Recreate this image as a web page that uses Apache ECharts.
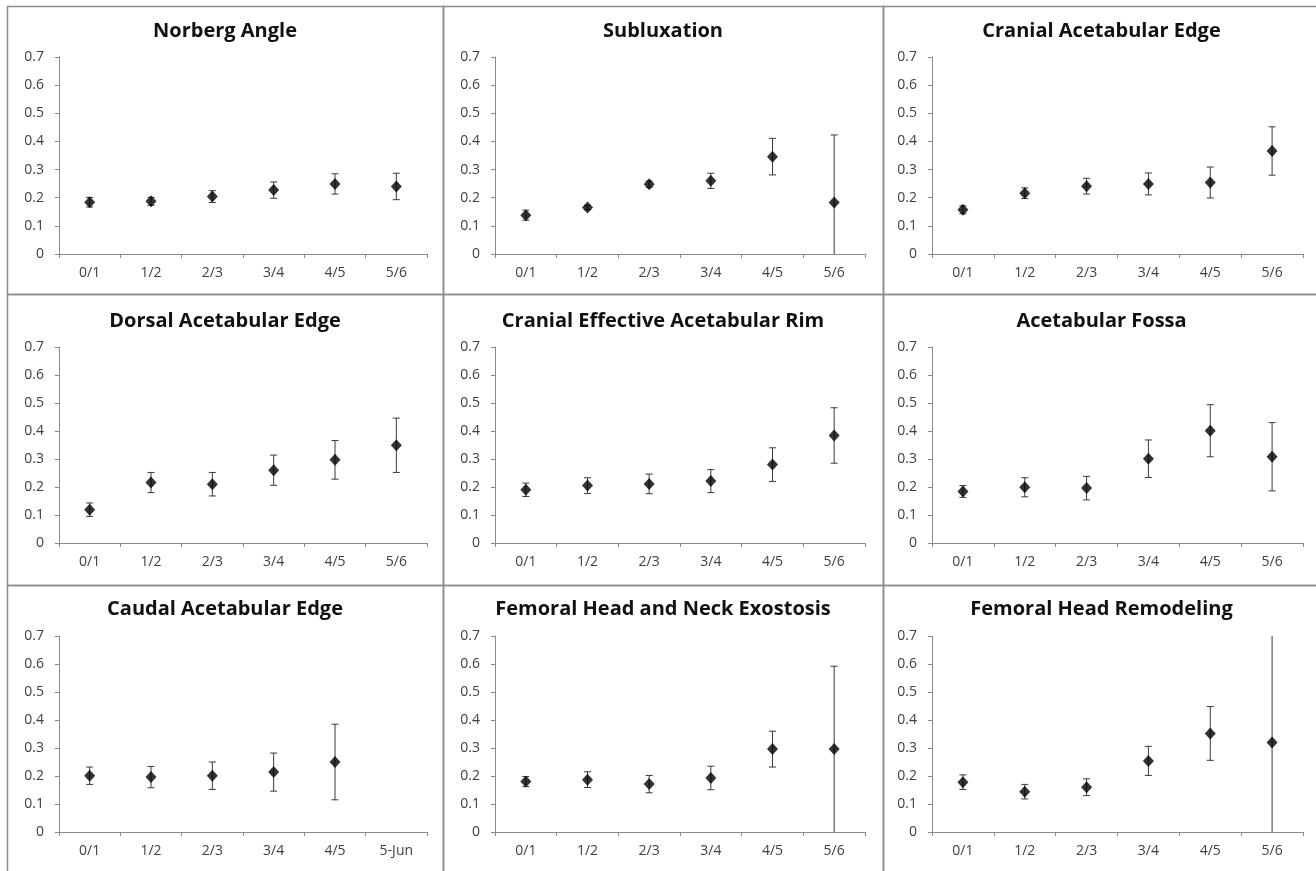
<!DOCTYPE html>
<html>
<head>
<meta charset="utf-8">
<script src="https://cdn.jsdelivr.net/npm/echarts@6/dist/echarts.min.js"></script>
<style>
  html, body { margin: 0; padding: 0; background: #fff; }
  #chart { width: 1316px; height: 871px; }
</style>
</head>
<body>
<div id="chart"></div>
<script>
// categories
const cats = ['0/1', '1/2', '2/3', '3/4', '4/5', '5/6']
const catsCaudal = ['0/1', '1/2', '2/3', '3/4', '4/5', '5-Jun']

// means and error bar half-widths
const norbergMean = [0.184, 0.187, 0.204, 0.227, 0.249, 0.240]
const norbergErr = [0.017, 0.014, 0.021, 0.029, 0.036, 0.047]

const subluxMean = [0.138, 0.165, 0.248, 0.260, 0.346, 0.183]
const subluxErr = [0.018, 0.008, 0.011, 0.027, 0.065, 0.240]

const cranialEdgeMean = [0.157, 0.216, 0.241, 0.249, 0.254, 0.366]
const cranialEdgeErr = [0.014, 0.019, 0.028, 0.039, 0.055, 0.086]

const dorsalEdgeMean = [0.119, 0.216, 0.210, 0.260, 0.297, 0.349]
const dorsalEdgeErr = [0.024, 0.036, 0.042, 0.054, 0.069, 0.097]

const cranialRimMean = [0.190, 0.205, 0.211, 0.221, 0.280, 0.384]
const cranialRimErr = [0.024, 0.028, 0.035, 0.041, 0.060, 0.099]

const fossaMean = [0.184, 0.199, 0.196, 0.301, 0.401, 0.308]
const fossaErr = [0.021, 0.034, 0.042, 0.067, 0.093, 0.122]

const caudalEdgeMean = [0.201, 0.196, 0.201, 0.214, 0.250, null]
const caudalEdgeErr = [0.031, 0.038, 0.049, 0.068, 0.135, null]

const exostosisMean = [0.180, 0.187, 0.171, 0.193, 0.296, 0.296]
const exostosisErr = [0.018, 0.028, 0.031, 0.042, 0.064, 0.296]

const remodelMean = [0.178, 0.144, 0.160, 0.254, 0.352, 0.320]
const remodelErr = [0.026, 0.026, 0.030, 0.052, 0.096, 0.400]

const yTicks = [0, 0.1, 0.2, 0.3, 0.4, 0.5, 0.6, 0.7]

const panels = [
  { title: 'Norberg Angle', cats: cats, mean: norbergMean, err: norbergErr },
  { title: 'Subluxation', cats: cats, mean: subluxMean, err: subluxErr },
  { title: 'Cranial Acetabular Edge', cats: cats, mean: cranialEdgeMean, err: cranialEdgeErr },
  { title: 'Dorsal Acetabular Edge', cats: cats, mean: dorsalEdgeMean, err: dorsalEdgeErr },
  { title: 'Cranial Effective Acetabular Rim', cats: cats, mean: cranialRimMean, err: cranialRimErr },
  { title: 'Acetabular Fossa', cats: cats, mean: fossaMean, err: fossaErr },
  { title: 'Caudal Acetabular Edge', cats: catsCaudal, mean: caudalEdgeMean, err: caudalEdgeErr },
  { title: 'Femoral Head and Neck Exostosis', cats: cats, mean: exostosisMean, err: exostosisErr },
  { title: 'Femoral Head Remodeling', cats: cats, mean: remodelMean, err: remodelErr }
]

// layout of the 3x3 panel grid
const colEdges = [7, 443, 883, 1322]
const rowEdges = [6, 294, 585, 877]
const plotLeft = [59, 495, 932]
const plotWidth = [368, 370, 371]
const plotTop = [57, 347, 636]
const plotHeight = [197, 196, 196]
const titleTop = [21, 311, 599]

const yMin = yTicks[0]
const yMax = yTicks[yTicks.length - 1]
const labelColor = '#404040'
const axisColor = '#8a8a8a'

// error bars drawn as a custom series
function renderErr(params, api) {
  const x = api.value(0)
  const m = api.value(1)
  const e = api.value(2)
  const lo = Math.max(yMin, m - e)
  const hi = Math.min(yMax, m + e)
  const pLo = api.coord([x, lo])
  const pHi = api.coord([x, hi])
  const cap = 3.5
  const style = { stroke: '#3a3a3a', lineWidth: 1 }
  const children = [{
    type: 'line',
    shape: { x1: pLo[0], y1: pLo[1], x2: pHi[0], y2: pHi[1] },
    style: style
  }]
  if (m + e <= yMax) {
    children.push({ type: 'line', shape: { x1: pHi[0] - cap, y1: pHi[1], x2: pHi[0] + cap, y2: pHi[1] }, style: style })
  }
  if (m - e > yMin) {
    children.push({ type: 'line', shape: { x1: pLo[0] - cap, y1: pLo[1], x2: pLo[0] + cap, y2: pLo[1] }, style: style })
  }
  return { type: 'group', children: children }
}

const titles = []
const grids = []
const xAxes = []
const yAxes = []
const series = []
const graphics = []

panels.forEach((p, i) => {
  const col = i % 3
  const row = Math.floor(i / 3)

  graphics.push({
    type: 'rect',
    silent: true,
    shape: {
      x: colEdges[col] + 0.5,
      y: rowEdges[row] + 0.5,
      width: colEdges[col + 1] - colEdges[col],
      height: rowEdges[row + 1] - rowEdges[row]
    },
    style: { fill: null, stroke: '#8c8c8c', lineWidth: 1.5 }
  })

  titles.push({
    text: p.title,
    left: (colEdges[col] + Math.min(colEdges[col + 1], 1316)) / 2 + (col === 2 ? 2 : 0),
    top: titleTop[row],
    textAlign: 'center',
    padding: 0,
    textStyle: { fontFamily: 'Open Sans', fontWeight: 'bold', fontSize: 20, color: '#111' }
  })

  grids.push({
    left: plotLeft[col],
    top: plotTop[row],
    width: plotWidth[col],
    height: plotHeight[row],
    containLabel: false
  })

  xAxes.push({
    type: 'category',
    gridIndex: i,
    data: p.cats,
    boundaryGap: true,
    axisLine: { lineStyle: { color: axisColor, width: 1 } },
    axisTick: { show: true, length: 4, inside: false, lineStyle: { color: axisColor } },
    axisLabel: { color: labelColor, fontFamily: 'Open Sans', fontSize: 14, margin: 12 },
    splitLine: { show: false }
  })

  yAxes.push({
    type: 'value',
    gridIndex: i,
    min: yMin,
    max: yMax,
    interval: 0.1,
    axisLine: { show: true, lineStyle: { color: axisColor, width: 1 } },
    axisTick: { show: true, length: 4, lineStyle: { color: axisColor } },
    axisLabel: { color: labelColor, fontFamily: 'Open Sans', fontSize: 14, margin: 15 },
    splitLine: { show: false }
  })

  const errData = []
  p.mean.forEach((m, k) => {
    if (m !== null) errData.push([k, m, p.err[k]])
  })

  series.push({
    type: 'custom',
    xAxisIndex: i,
    yAxisIndex: i,
    renderItem: renderErr,
    data: errData,
    silent: true,
    z: 2
  })

  series.push({
    type: 'scatter',
    xAxisIndex: i,
    yAxisIndex: i,
    symbol: 'diamond',
    symbolSize: [11, 12],
    itemStyle: { color: '#000' },
    data: p.mean.map(m => (m === null ? '-' : m)),
    silent: true,
    z: 3
  })
})

const chart = echarts.init(document.getElementById('chart'))
chart.setOption({
  backgroundColor: '#fff',
  animation: false,
  title: titles,
  grid: grids,
  xAxis: xAxes,
  yAxis: yAxes,
  series: series,
  graphic: graphics
})
</script>
</body>
</html>
